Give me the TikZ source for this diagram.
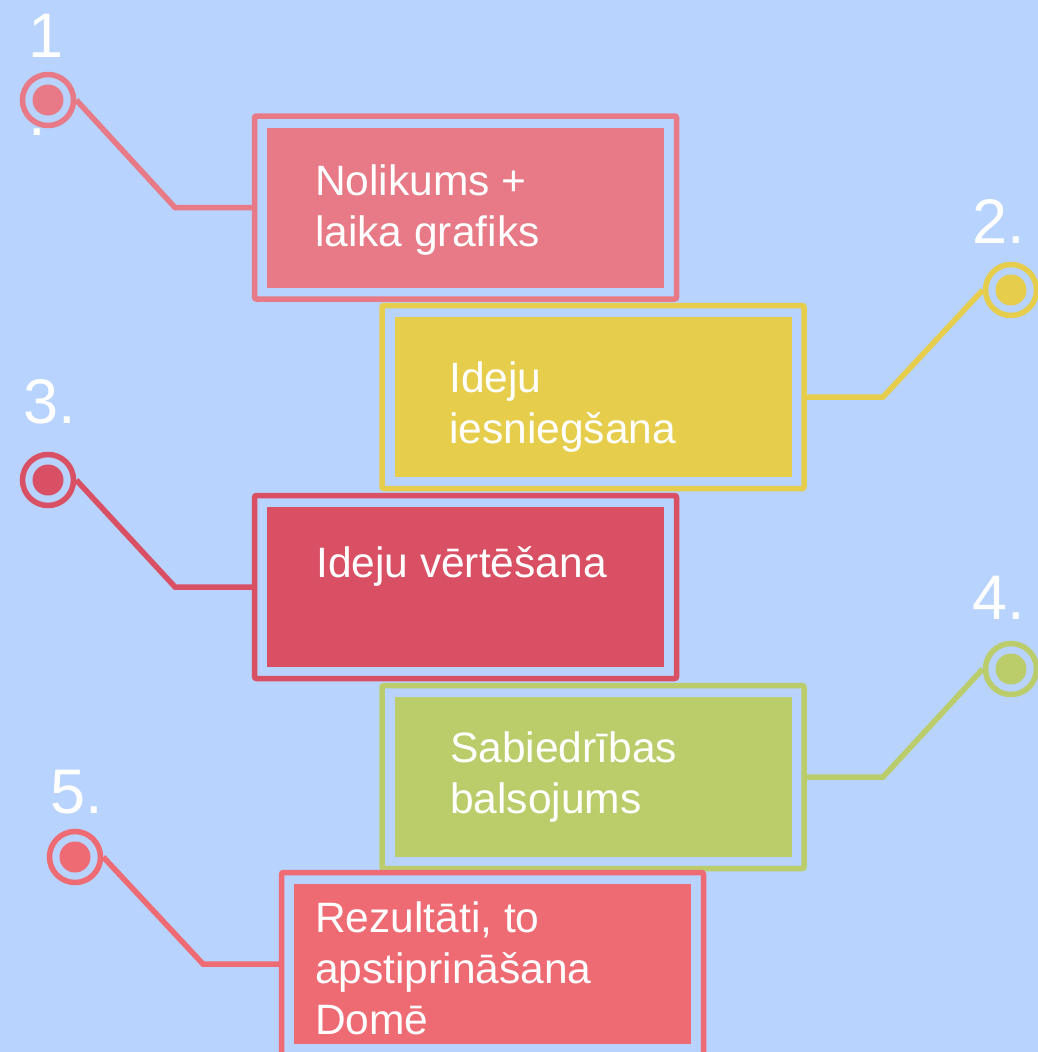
\documentclass[tikz,border=0pt]{standalone}
\usepackage{fontspec}
\setmainfont{Liberation Sans}
\usepackage{tikz}
\usetikzlibrary{positioning}

\definecolor{fondo}{HTML}{B8D3FD}
\definecolor{rosa}{HTML}{E77A86}
\definecolor{amarillo}{HTML}{E6CD4B}
\definecolor{granate}{HTML}{D95065}
\definecolor{verde}{HTML}{BBCD6B}
\definecolor{rojo}{HTML}{EF6B73}

\begin{document}
\begin{tikzpicture}[x=1pt,y=-1pt]
\tikzstyle{marco} = [draw, line width=5.5pt, rounded corners=2pt, minimum width=422pt, minimum height=183pt, inner sep=0pt]
\tikzstyle{caja} = [minimum width=397pt, minimum height=160pt, inner sep=0pt]
\tikzstyle{texto} = [anchor=base west, inner sep=0pt, align=left, text=white, font=\fontsize{42.5}{51}\selectfont]
\tikzstyle{anillo} = [circle, draw, line width=5.5pt, minimum size=51pt, inner sep=0pt]
\tikzstyle{punto} = [circle, minimum size=31pt, inner sep=0pt]
\tikzstyle{num} = [anchor=base west, inner sep=0pt, align=left, text=white, font=\fontsize{63}{78}\selectfont]
\tikzstyle{linea} = [line width=5.5pt]

\fill[fondo] (0,0) rectangle (1038,1052);
\useasboundingbox (0,0) rectangle (1038,1052);
\clip (0,0) rectangle (1038,1052);

\node[marco, draw=rosa] (m1) at (465.5,207.5) {};
\node[caja, fill=rosa] (b1) at (m1) {};
\node[marco, draw=amarillo] (m2) at (593,397) {};
\node[caja, fill=amarillo] (b2) at (m2) {};
\node[marco, draw=granate] (m3) at (465.5,587) {};
\node[caja, fill=granate] (b3) at (m3) {};
\node[marco, draw=verde] (m4) at (593,777) {};
\node[caja, fill=verde] (b4) at (m4) {};
\node[marco, draw=rojo] (m5) at (492.5,964) {};
\node[caja, fill=rojo] (b5) at (m5) {};

% base west = last line
\node[texto] (t1) at (315,246) {Nolikums +\\laika grafiks};
\node[texto] (t2) at (449,443) {Ideju\\iesniegšana};
\node[texto] (t3) at (316,577) {Ideju vērtēšana};
\node[texto] (t4) at (450,813) {Sabiedrības\\balsojums};
\node[texto] (t5) at (315,1034) {Rezultāti, to\\apstiprināšana\\Domē};

\node[anillo, draw=rosa] (c1) at (48,100) {};
\node[punto, fill=rosa] (d1) at (c1) {};
\node[anillo, draw=amarillo] (c2) at (1011,290) {};
\node[punto, fill=amarillo] (d2) at (c2) {};
\node[anillo, draw=granate] (c3) at (48,480) {};
\node[punto, fill=granate] (d3) at (c3) {};
\node[anillo, draw=verde] (c4) at (1011,669) {};
\node[punto, fill=verde] (d4) at (c4) {};
\node[anillo, draw=rojo] (c5) at (75,857) {};
\node[punto, fill=rojo] (d5) at (c5) {};

\coordinate (e1) at (175,207.5);
\coordinate (e2) at (883,397);
\coordinate (e3) at (175,587);
\coordinate (e4) at (883,777);
\coordinate (e5) at (203,964);

\draw[linea, rosa] (c1.east) -- (e1) -- (m1.west);
\draw[linea, amarillo] (c2.west) -- (e2) -- (m2.east);
\draw[linea, granate] (c3.east) -- (e3) -- (m3.west);
\draw[linea, verde] (c4.west) -- (e4) -- (m4.east);
\draw[linea, rojo] (c5.east) -- (e5) -- (m5.west);

\node[num] (n1) at (28,135) {1\\.};
\node[num] (n2) at (972,243) {2.};
\node[num] (n3) at (23,423) {3.};
\node[num] (n4) at (972,619) {4.};
\node[num] (n5) at (50,813) {5.};
\end{tikzpicture}
\end{document}
